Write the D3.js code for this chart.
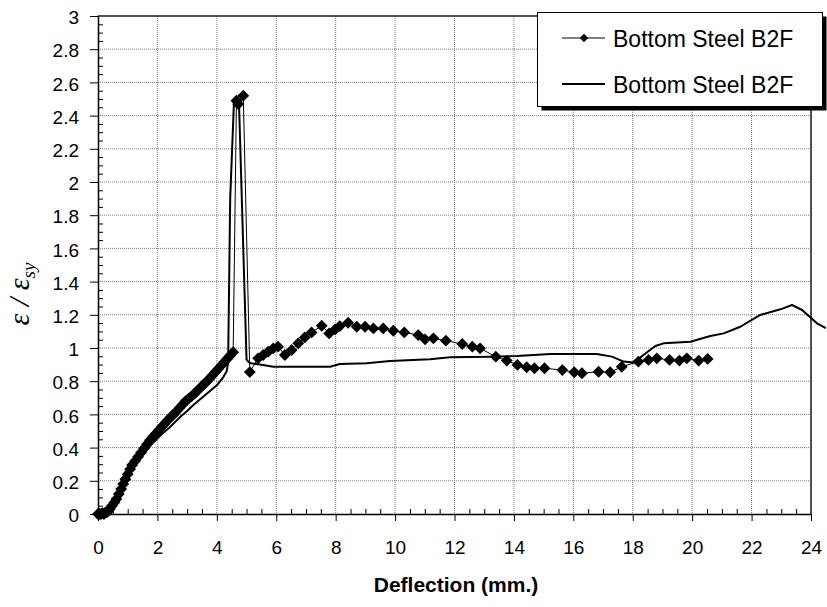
<!DOCTYPE html>
<html>
<head>
<meta charset="utf-8">
<script src="https://cdn.jsdelivr.net/npm/d3@7"></script>
<style>
  body { margin: 0; background: #fff; }
  text { font-family: "Liberation Sans", Arial, sans-serif; }
</style>
</head>
<body>
<div class="container"></div>
<script>
// strain ratio vs deflection, two series (diamonds + plain line)
const seriesNames = ["Bottom Steel B2F", "Bottom Steel B2F"];

// series 1 : diamonds with thin line
const diamondX = [0, 0.05, 0.1, 0.15, 0.2, 0.25, 0.3, 0.35, 0.4, 0.47, 0.55, 0.62, 0.7, 0.78, 0.85, 0.92,
  1.0, 1.08, 1.15, 1.25, 1.35, 1.45, 1.55, 1.65, 1.75, 1.85, 1.95, 2.05, 2.15, 2.25, 2.35, 2.45,
  2.55, 2.65, 2.75, 2.85, 2.95, 3.05, 3.15, 3.25, 3.35, 3.45, 3.55, 3.65, 3.75, 3.85, 3.95, 4.05,
  4.15, 4.25, 4.35, 4.45, 4.55, 4.66, 4.72, 4.89, 5.11,
  5.39, 5.56, 5.73, 5.9, 6.06, 6.29, 6.52, 6.74, 6.96, 7.19, 7.53, 7.78, 7.98, 8.14, 8.42, 8.71,
  8.99, 9.27, 9.6, 9.94, 10.31, 10.78, 11.01, 11.29, 11.71, 12.26, 12.6, 12.86, 13.39, 13.76,
  14.12, 14.43, 14.69, 15.03, 15.63, 16.03, 16.29, 16.85, 17.24, 17.63, 18.19, 18.53, 18.81,
  19.24, 19.57, 19.82, 20.22, 20.52];
const diamondY = [0, 0, 0, 0.005, 0, 0.01, 0.01, 0.02, 0.03, 0.05, 0.07, 0.09, 0.12, 0.15, 0.18, 0.21,
  0.24, 0.27, 0.295, 0.32, 0.345, 0.37, 0.395, 0.42, 0.445, 0.465, 0.485, 0.505, 0.525, 0.545, 0.565, 0.585,
  0.6, 0.62, 0.64, 0.66, 0.68, 0.695, 0.71, 0.725, 0.745, 0.76, 0.78, 0.795, 0.815, 0.835, 0.855, 0.875,
  0.895, 0.915, 0.935, 0.955, 0.975, 2.49, 2.47, 2.52, 0.855,
  0.938, 0.958, 0.978, 0.998, 1.008, 0.958, 0.988, 1.028, 1.064, 1.094, 1.134, 1.088, 1.112, 1.132, 1.152, 1.128,
  1.128, 1.118, 1.118, 1.104, 1.094, 1.078, 1.052, 1.058, 1.044, 1.024, 1.008, 0.998, 0.948, 0.924,
  0.898, 0.884, 0.878, 0.878, 0.867, 0.854, 0.848, 0.857, 0.854, 0.887, 0.918, 0.928, 0.938,
  0.928, 0.924, 0.938, 0.924, 0.934];

// series 2 : plain line
const lineX = [0, 0.2, 0.4, 0.6, 0.8, 1.0, 1.2, 1.4, 1.6, 1.8, 2.0, 2.2, 2.4, 2.6, 2.8, 3.0, 3.2, 3.4,
  3.6, 3.8, 4.0, 4.2, 4.33, 4.38, 4.45, 4.58, 4.75, 5.0, 5.1, 5.45, 5.9, 7.81, 8.14, 9.04, 9.83,
  11.18, 11.85, 13.2, 14.1, 15.22, 16.79, 17.3, 17.69, 18.03, 18.36, 18.76, 19.04, 19.94, 20.61,
  21.06, 21.62, 22.29, 22.97, 23.36, 23.7, 24.2, 24.5];
const lineY = [0, 0, 0.02, 0.08, 0.16, 0.23, 0.29, 0.34, 0.38, 0.42, 0.455, 0.49, 0.52, 0.555, 0.59, 0.62, 0.655, 0.685,
  0.715, 0.745, 0.775, 0.82, 0.86, 0.91, 1.9, 2.5, 2.45, 0.93, 0.91, 0.9, 0.887, 0.887, 0.904, 0.908, 0.922,
  0.932, 0.944, 0.948, 0.952, 0.964, 0.964, 0.948, 0.918, 0.912, 0.958, 1.012, 1.028, 1.038, 1.072,
  1.088, 1.128, 1.199, 1.233, 1.259, 1.229, 1.149, 1.12];

const xTicks = [0, 2, 4, 6, 8, 10, 12, 14, 16, 18, 20, 22, 24];
const yTicks = [0, 0.2, 0.4, 0.6, 0.8, 1, 1.2, 1.4, 1.6, 1.8, 2, 2.2, 2.4, 2.6, 2.8, 3];

const w = 827;
const h = 607;
const padL = 98, padR = 811, padT = 16, padB = 514;

const svg = d3.select(".container")
              .append("svg")
              .attr("width", w)
              .attr("height", h)
              .style("background-color", "#fff");

const x = d3.scaleLinear().domain([0, 24]).range([padL, padR]);
const y = d3.scaleLinear().domain([0, 3]).range([padB, padT]);

// grid
const grid = svg.append("g").attr("class", "grid");
grid.selectAll("line.gx")
    .data(xTicks.slice(1))
    .enter().append("line")
    .attr("x1", d => x(d)).attr("x2", d => x(d))
    .attr("y1", padT).attr("y2", padB);
grid.selectAll("line.gy")
    .data(yTicks.slice(1))
    .enter().append("line")
    .attr("x1", padL).attr("x2", padR)
    .attr("y1", d => y(d)).attr("y2", d => y(d));
grid.selectAll("line")
    .attr("stroke", "#7a7a7a")
    .attr("stroke-width", 1)
    .attr("stroke-dasharray", "1,1");

// plot frame (top + right)
svg.append("path")
   .attr("d", `M${padL},${padT}H${padR}V${padB}`)
   .attr("fill", "none")
   .attr("stroke", "#222")
   .attr("stroke-width", 1.5);

// minor ticks inside
const minorX = d3.range(0.5, 24, 0.5).filter(d => d % 2 !== 0);
const minorY = d3.range(0.05, 3, 0.05).filter(d => Math.abs(d * 5 - Math.round(d * 5)) > 1e-6);

svg.append("g")
   .attr("transform", `translate(0,${padB})`)
   .call(d3.axisTop(x).tickValues(minorX).tickSize(5).tickFormat(""))
   .call(g => g.select(".domain").remove());
svg.append("g")
   .attr("transform", `translate(${padL},0)`)
   .call(d3.axisRight(y).tickValues(minorY).tickSize(5).tickFormat(""))
   .call(g => g.select(".domain").remove());

// main axes
const xAxis = svg.append("g")
   .attr("id", "x-axis")
   .attr("transform", `translate(0,${padB})`)
   .call(d3.axisBottom(x).tickValues(xTicks).tickSize(7).tickSizeOuter(0).tickPadding(20).tickFormat(d => String(d)));

const yAxis = svg.append("g")
   .attr("id", "y-axis")
   .attr("transform", `translate(${padL},0)`)
   .call(d3.axisLeft(y).tickValues(yTicks).tickSize(8).tickSizeOuter(0).tickPadding(11).tickFormat(d => String(d)));

svg.selectAll("#x-axis text, #y-axis text")
   .style("font-size", "19px")
   .attr("fill", "#000");
yAxis.selectAll("text").attr("dy", "0.4em");
svg.selectAll(".domain").attr("stroke", "#000").attr("stroke-width", 1.5);
svg.selectAll(".tick line").attr("stroke", "#000");

// series
const diamondData = diamondX.map((d, i) => [d, diamondY[i]]);
const lineData = lineX.map((d, i) => [d, lineY[i]]);
const lineGen = d3.line().x(d => x(d[0])).y(d => y(d[1]));

svg.append("path")
   .datum(lineData)
   .attr("d", lineGen)
   .attr("fill", "none")
   .attr("stroke", "#000")
   .attr("stroke-width", 2)
   .attr("stroke-linejoin", "round");

svg.append("path")
   .datum(diamondData)
   .attr("d", lineGen)
   .attr("fill", "none")
   .attr("stroke", "#000")
   .attr("stroke-width", 1);

const diamond = d3.symbol().type(d3.symbolSquare).size(70);
svg.selectAll("path.pt")
   .data(diamondData)
   .enter().append("path")
   .attr("class", "pt")
   .attr("d", diamond)
   .attr("transform", d => `translate(${x(d[0])},${y(d[1])}) rotate(45)`)
   .attr("fill", "#000");

// axis titles
svg.append("text")
   .attr("x", 456)
   .attr("y", 592)
   .attr("text-anchor", "middle")
   .style("font-size", "21px")
   .style("font-weight", "bold")
   .text("Deflection (mm.)");

const yTitle = svg.append("text")
   .attr("transform", "translate(29,294) rotate(-90)")
   .attr("text-anchor", "middle")
   .style("font-family", "'Liberation Serif', 'Times New Roman', serif")
   .style("font-style", "italic")
   .style("font-size", "30px");
yTitle.append("tspan").text("\u03b5 / \u03b5");
yTitle.append("tspan").attr("dy", 6).style("font-size", "19px").text("sy");

// legend
const legend = svg.append("g").attr("class", "legend");
legend.append("rect")
      .attr("x", 541.5).attr("y", 16.5)
      .attr("width", 285).attr("height", 94)
      .attr("fill", "#000");
legend.append("rect")
      .attr("x", 537.5).attr("y", 12.5)
      .attr("width", 285).attr("height", 94)
      .attr("fill", "#fff")
      .attr("stroke", "#000");

const legendY = [38, 84];
legend.selectAll("line.key")
      .data(seriesNames)
      .enter().append("line")
      .attr("x1", 562).attr("x2", 605)
      .attr("y1", (d, i) => legendY[i]).attr("y2", (d, i) => legendY[i])
      .attr("stroke", "#000")
      .attr("stroke-width", (d, i) => i === 0 ? 1 : 2);
legend.append("path")
      .attr("d", d3.symbol().type(d3.symbolSquare).size(36))
      .attr("transform", `translate(584,${legendY[0]}) rotate(45)`)
      .attr("fill", "#000");
legend.selectAll("text")
      .data(seriesNames)
      .enter().append("text")
      .attr("x", 613)
      .attr("y", (d, i) => legendY[i] + 8.5)
      .style("font-size", "23px")
      .text(d => d);
</script>
</body>
</html>
